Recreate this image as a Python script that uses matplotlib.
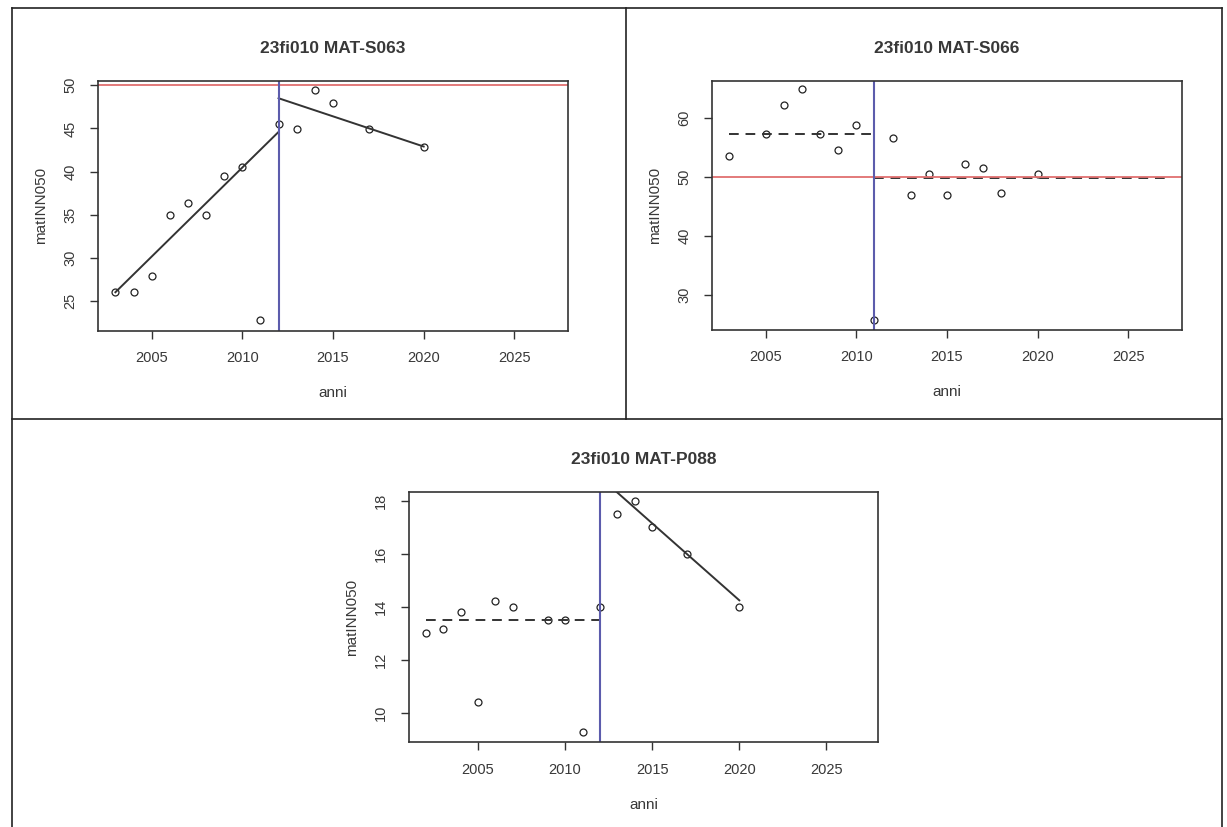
import matplotlib
matplotlib.use('Agg')
import matplotlib.pyplot as plt
from matplotlib.lines import Line2D

plt.rcParams['font.family'] = ['Liberation Sans', 'DejaVu Sans']

# dati
anni1 = [2003, 2004, 2005, 2006, 2007, 2008, 2009, 2010, 2011, 2012, 2013, 2014, 2015, 2017, 2020]
val1 = [26.0, 26.0, 27.9, 35.0, 36.4, 35.0, 39.5, 40.5, 22.8, 45.5, 44.9, 49.5, 48.0, 44.9, 42.8]
pre1_x, pre1_y = [2003, 2012], [26.0, 44.6]
post1_x, post1_y = [2012, 2020], [48.5, 42.9]
break1 = 2012

anni2 = [2003, 2005, 2006, 2007, 2008, 2009, 2010, 2011, 2012, 2013, 2014, 2015, 2016, 2017, 2018, 2020]
val2 = [53.5, 57.3, 62.1, 64.8, 57.3, 54.6, 58.7, 25.8, 56.6, 47.0, 50.5, 47.0, 52.1, 51.5, 47.3, 50.4]
pre2_x, pre2_y = [2003, 2011], [57.2, 57.2]
post2_x, post2_y = [2011, 2027], [49.8, 49.8]
break2 = 2011

anni3 = [2002, 2003, 2004, 2005, 2006, 2007, 2009, 2010, 2011, 2012, 2013, 2014, 2015, 2017, 2020]
val3 = [13.0, 13.17, 13.8, 10.4, 14.24, 14.0, 13.5, 13.5, 9.26, 14.0, 17.5, 18.0, 17.0, 16.0, 14.0]
pre3_x, pre3_y = [2002, 2012], [13.5, 13.5]
post3_x, post3_y = [2012, 2020], [18.9, 14.25]
break3 = 2012

soglia = 50
etichetta_y = 'matINN050'

W, H = 1227, 827


def box(l, t, r, b):
    return [l / W, 1 - b / H, (r - l) / W, (b - t) / H]


fig = plt.figure(figsize=(W / 100, H / 100), dpi=100)
fig.patch.set_facecolor('white')

txt = '#383838'


def pannello(pos, titolo, anni, val, pre_x, pre_y, post_x, post_y, brk,
             xlim, ylim, yticks, pre_style, post_style, red=True):
    ax = fig.add_axes(box(*pos))
    ax.plot(anni, val, 'o', mfc='none', mec='#222222', ms=5, mew=0.9)
    ax.plot(pre_x, pre_y, color='#333333', lw=1.4, **pre_style)
    ax.plot(post_x, post_y, color='#333333', lw=1.4, **post_style)
    if red:
        ax.axhline(soglia, color='#e07070', lw=1.3)
    ax.axvline(brk, color='#5c5cac', lw=1.5)
    ax.set_xlim(*xlim)
    ax.set_ylim(*ylim)
    ax.set_xticks([2005, 2010, 2015, 2020, 2025])
    ax.set_yticks(yticks)
    ax.tick_params(length=6, width=1, color='#333333', labelsize=10.5,
                   labelcolor=txt, pad=9)
    ax.tick_params(axis='y', labelrotation=90)
    for lab in ax.get_yticklabels():
        lab.set_va('center')
    for s in ax.spines.values():
        s.set_color('#333333')
        s.set_linewidth(1.2)
    ax.set_title(titolo, fontsize=12.5, fontweight='bold', color=txt, pad=20)
    ax.set_xlabel('anni', fontsize=11, color=txt, labelpad=15)
    ax.set_ylabel(etichetta_y, fontsize=11, color=txt, labelpad=11)
    return ax


solid = {'ls': '-'}
dash = {'ls': (0, (5, 3.5))}

pannello((98, 81, 568, 330.5), '23fi010 MAT-S063', anni1, val1,
         pre1_x, pre1_y, post1_x, post1_y, break1,
         (2002.04, 2027.96), (21.56, 50.5), [25, 30, 35, 40, 45, 50], solid, solid)
pannello((712, 81, 1182, 329.5), '23fi010 MAT-S066', anni2, val2,
         pre2_x, pre2_y, post2_x, post2_y, break2,
         (2002.04, 2027.96), (24.2, 66.2), [30, 40, 50, 60], dash, dash)
pannello((409, 492, 878, 742), '23fi010 MAT-P088', anni3, val3,
         pre3_x, pre3_y, post3_x, post3_y, break3,
         (2001.04, 2027.96), (8.9, 18.34), [10, 12, 14, 16, 18], dash, solid, red=False)

# cornici dei pannelli
def linea(x0, y0, x1, y1):
    fig.add_artist(Line2D([x0 / W, x1 / W], [1 - y0 / H, 1 - y1 / H],
                          color='#222222', lw=1.2))

linea(12, 8, 1222, 8)
linea(12, 8, 12, 827)
linea(1222, 8, 1222, 827)
linea(626, 8, 626, 419)
linea(12, 419, 1222, 419)

fig.savefig('out.png', dpi=100)
